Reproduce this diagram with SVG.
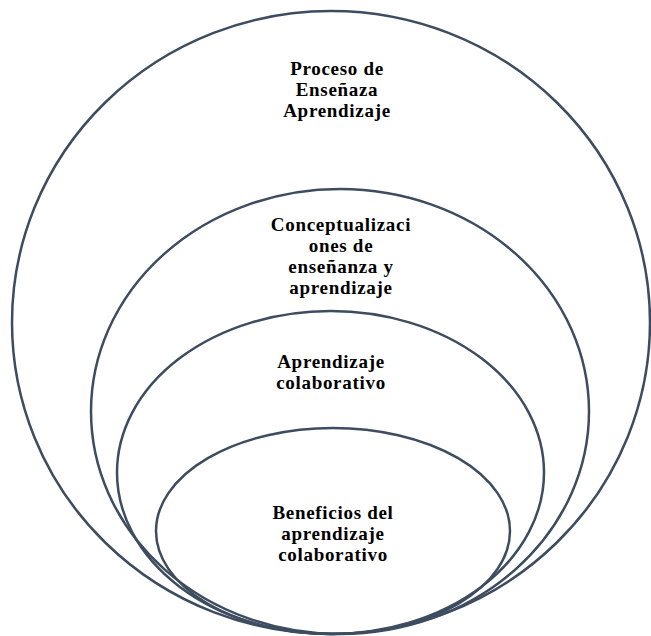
<svg xmlns="http://www.w3.org/2000/svg" width="651" height="636" viewBox="0 0 651 636">
<style>
.ring{fill:none;stroke:#3e4c60;stroke-width:2.5}
.lbl{font-family:"Liberation Serif","Times New Roman",serif;font-weight:bold;font-size:19px;letter-spacing:0.7px;fill:#000;text-anchor:middle}
</style>
<rect width="651" height="636" fill="#fff"/>
<g id="n1">
<ellipse class="ring" cx="331" cy="322.5" rx="319" ry="311.5"/>
<text class="lbl" x="337" y="75">Proceso de</text>
<text class="lbl" x="337" y="96">Enseñaza</text>
<text class="lbl" x="337" y="117">Aprendizaje</text>
</g>
<g id="n2">
<ellipse class="ring" cx="340" cy="411.5" rx="249" ry="222.5"/>
<text class="lbl" x="341" y="231">Conceptualizaci</text>
<text class="lbl" x="341" y="252">ones de</text>
<text class="lbl" x="341" y="273">enseñanza y</text>
<text class="lbl" x="341" y="294">aprendizaje</text>
</g>
<g id="n3">
<ellipse class="ring" cx="330.5" cy="472.5" rx="213.5" ry="161.5"/>
<text class="lbl" x="331" y="368">Aprendizaje</text>
<text class="lbl" x="331" y="389">colaborativo</text>
</g>
<g id="n4">
<ellipse class="ring" cx="333" cy="531" rx="177" ry="103"/>
<text class="lbl" x="333" y="519">Beneficios del</text>
<text class="lbl" x="333" y="540">aprendizaje</text>
<text class="lbl" x="333" y="561">colaborativo</text>
</g>
<g id="connectors"/>
</svg>
